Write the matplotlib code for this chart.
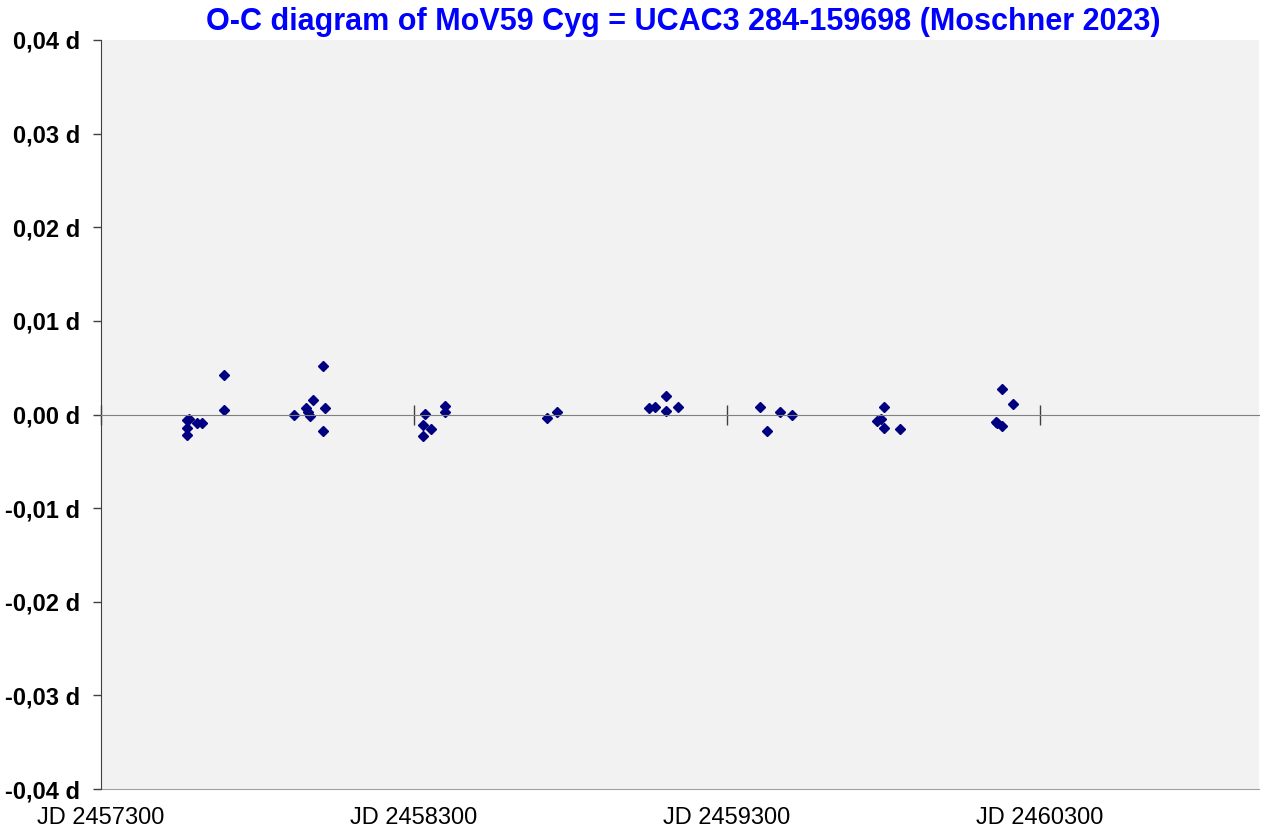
import matplotlib.pyplot as plt
from matplotlib.ticker import FixedLocator, FuncFormatter

# O-C values (JD, days)
jd = [2457576, 2457574, 2457574, 2457581, 2457606, 2457624, 2457693, 2457693,
      2457917, 2457954, 2457961, 2457967, 2457978, 2458008, 2458016, 2458008,
      2458334, 2458330, 2458353, 2458330, 2458399, 2458399, 2458724, 2458758,
      2459052, 2459070, 2459104, 2459104, 2459143,
      2459406, 2459428, 2459470, 2459507,
      2459803, 2459779, 2459791, 2459803, 2459853,
      2460180, 2460213, 2460159, 2460164, 2460180]
oc = [-0.00057, -0.00146, -0.00217, -0.00046, -0.00086, -0.00086, 0.00424, 0.00043,
      -0.00003, 0.00068, 0.00025, -0.00018, 0.00157, 0.00517, 0.00068, -0.00175,
      0.00010, -0.00114, -0.00150, -0.00225, 0.00096, 0.00025, -0.00040, 0.00032,
      0.00072, 0.00078, 0.00196, 0.00040, 0.00078,
      0.00075, -0.00178, 0.00032, 0.00000,
      0.00082, -0.00071, -0.00046, -0.00139, -0.00150,
      0.00271, 0.00114, -0.00075, -0.00093, -0.00118]

x_ticks = [2457300, 2458300, 2459300, 2460300]
y_ticks = [-0.04, -0.03, -0.02, -0.01, 0.0, 0.01, 0.02, 0.03, 0.04]
title = "O-C diagram of MoV59 Cyg = UCAC3 284-159698 (Moschner 2023)"

plt.rcParams['font.family'] = ['Liberation Sans', 'DejaVu Sans']

fig = plt.figure(figsize=(12.61, 8.34), dpi=100)
ax = fig.add_axes([101 / 1261, 1 - 789 / 834, 1158 / 1261, 749 / 834])
ax.set_facecolor('#f2f2f2')

ax.plot(jd, oc, linestyle='none', marker='D', ms=5.4, color='#000080')

ax.set_xlim(2457300, 2461000)
ax.set_ylim(-0.04, 0.04)

# x axis crosses at zero, like the spreadsheet original
ax.spines['bottom'].set_position(('data', 0))
ax.spines['bottom'].set_color('#808080')
ax.spines['top'].set_visible(False)
ax.spines['right'].set_visible(False)
ax.spines['left'].set_color('#404040')
ax.xaxis.set_major_locator(FixedLocator(x_ticks))
ax.tick_params(axis='x', direction='inout', length=14, width=1, color='#404040',
               labelbottom=False)

ax.yaxis.set_major_locator(FixedLocator(y_ticks))
ax.yaxis.set_major_formatter(FuncFormatter(
    lambda v, p: ("%.2f d" % v).replace('.', ',').replace('-0,00', '0,00')))
ax.tick_params(axis='y', direction='out', length=6, width=1, color='#404040',
               labelsize=17, pad=9)
for lab in ax.get_yticklabels():
    lab.set_fontweight('bold')

# labels along the bottom edge
sec = ax.secondary_xaxis('bottom')
sec.xaxis.set_major_locator(FixedLocator(x_ticks))
sec.xaxis.set_major_formatter(FuncFormatter(lambda v, p: "JD %d" % v))
sec.tick_params(length=0, labelsize=17, pad=13)
sec.spines['bottom'].set_color('#a0a0a0')

fig.text(0.5415, 0.974, title, ha='center', va='center', color='#0000ff',
         fontsize=22, fontweight='bold')

fig.savefig('out.png', dpi=100)
